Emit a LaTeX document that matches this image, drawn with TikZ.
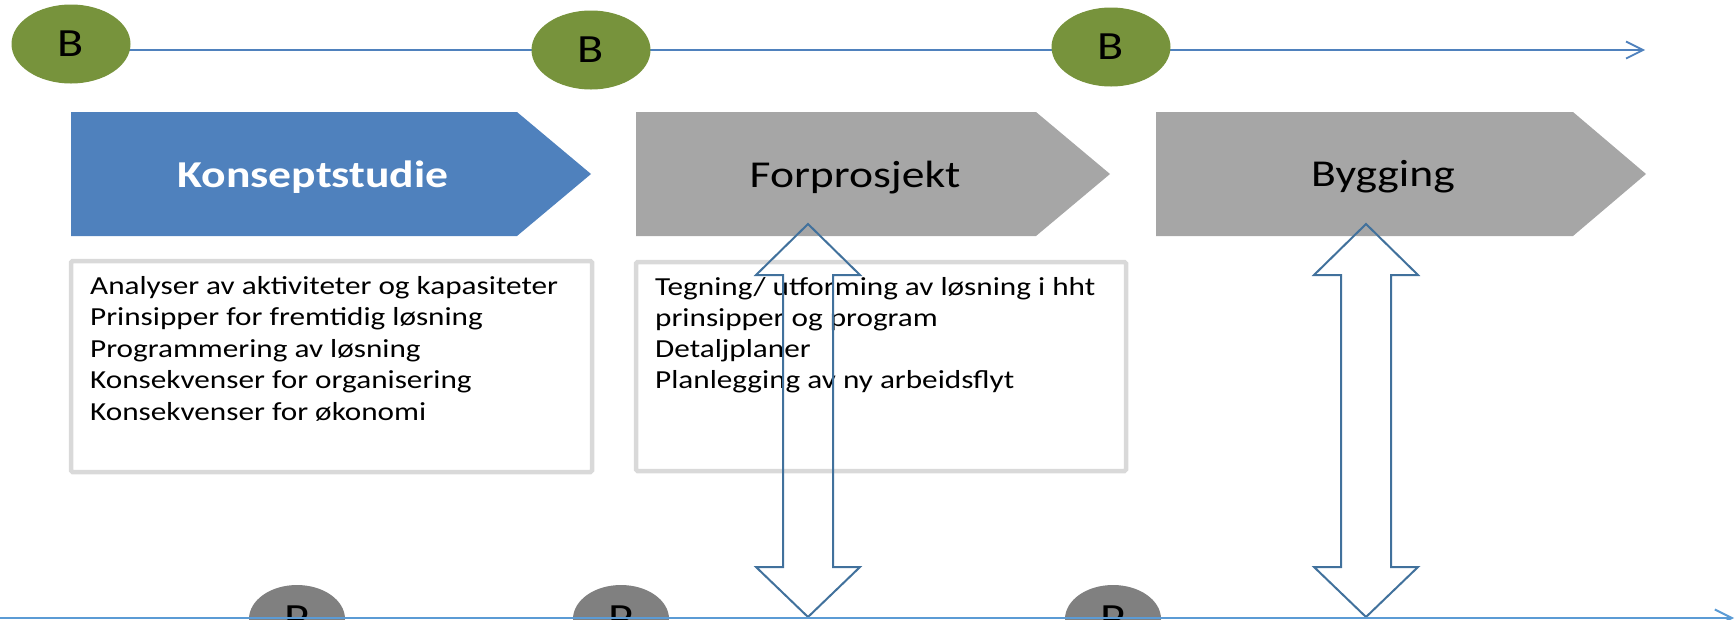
\documentclass[tikz,border=0pt]{standalone}
\usepackage{fontspec}
\setmainfont{Carlito}[FakeStretch=1.2]
\usetikzlibrary{arrows.meta,shapes.geometric,backgrounds}
\definecolor{mileB}{HTML}{77933C}
\definecolor{mileP}{HTML}{808080}
\definecolor{phaseblue}{HTML}{4F81BD}
\definecolor{phasegrey}{HTML}{A6A6A6}
\definecolor{linetop}{HTML}{4F81BD}
\definecolor{linebot}{HTML}{5B9BD5}
\definecolor{boxgrey}{HTML}{D9D9D9}
\definecolor{dblarrow}{HTML}{41719C}
\tikzset{
  mile/.style={ellipse,inner sep=0pt,font=\fontsize{40}{48}\selectfont},
  phasetext/.style={anchor=base,font=\fontsize{38}{46}\selectfont},
  itemtext/.style={anchor=base west,inner sep=0pt,font=\fontsize{26}{32}\selectfont},
  itembox/.style={boxgrey,line width=4.5pt,rounded corners=1.5pt},
  tip/.style={-{Straight Barb[length=17pt,width=17pt]}}
}

\begin{document}
\begin{tikzpicture}[x=1pt,y=-1pt]
\useasboundingbox (0,0) rectangle (1736,619);
\clip (0,0) rectangle (1736,619);
% milestones B
\node[mile,fill=mileB,minimum width=119,minimum height=79] (B1) at (71,44) {B};
\node[mile,fill=mileB,minimum width=119,minimum height=79] (B2) at (591,50) {B};
\node[mile,fill=mileB,minimum width=119,minimum height=79] (B3) at (1111,47) {B};
\coordinate (tlend) at (1645,50);
\begin{scope}[on background layer]
\draw[linetop,line width=1.8pt,tip] (B1 |- tlend) -- (tlend);
\end{scope}
% phases
\fill[phaseblue] (71,112) -- (517,112) -- (591,174) -- (517,236) -- (71,236) -- cycle;
\fill[phasegrey] (636,112) -- (1036,112) -- (1110,174) -- (1036,236) -- (636,236) -- cycle;
\fill[phasegrey] (1156,112) -- (1573,112) -- (1646,174) -- (1573,236) -- (1156,236) -- cycle;
\node[phasetext,text=white] (konsept) at (313,187) {\bfseries Konseptstudie};
\node[phasetext] (forpro) at (855,187) {Forprosjekt};
\node[phasetext] (bygg) at (1383,186) {Bygging};
% text boxes
\draw[itembox] (71,261) rectangle (592,472);
\draw[itembox] (636,262) rectangle (1126,471);
\foreach \t [count=\i from 0] in {Analyser av aktiviteter og kapasiteter,
  Prinsipper for fremtidig løsning, Programmering av løsning,
  Konsekvenser for organisering, Konsekvenser for økonomi}
  \node[itemtext] (ka\i) at (90,294+31.5*\i) {\t};
\foreach \t [count=\i from 0] in {Tegning/ utforming av løsning i hht,
  prinsipper og program, Detaljplaner, Planlegging av ny arbeidsflyt}
  \node[itemtext] (fp\i) at (655,295+31*\i) {\t};
% double arrows
\foreach \ax in {808,1366}
  \draw[dblarrow,line width=2pt,line join=miter] (\ax,224) -- (\ax+52,275) -- (\ax+25,275)
    -- (\ax+25,567) -- (\ax+52,567) -- (\ax,617) -- (\ax-52,567) -- (\ax-25,567)
    -- (\ax-25,275) -- (\ax-52,275) -- cycle;
% milestones P
\node[mile,fill=mileP,minimum width=96,minimum height=68] (P1) at (297,619) {P};
\node[mile,fill=mileP,minimum width=96,minimum height=68] (P2) at (621,619) {P};
\node[mile,fill=mileP,minimum width=96,minimum height=68] (P3) at (1113,619) {P};
\coordinate (blstart) at (0,618);
\coordinate (blend) at (1734,618);
\draw[linebot,line width=2pt,tip] (blstart) -- (blend);
\end{tikzpicture}
\end{document}
